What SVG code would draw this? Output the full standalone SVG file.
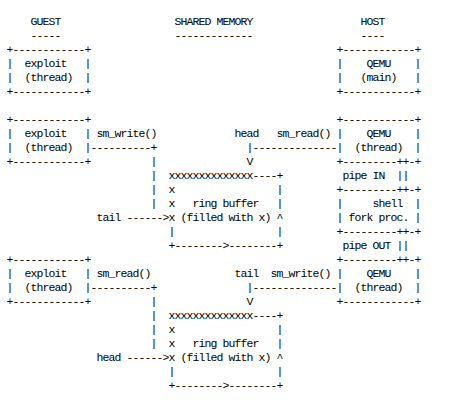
<svg xmlns="http://www.w3.org/2000/svg" width="474" height="403" viewBox="0 0 474 403">
<style>
text{font-family:"Liberation Mono","DejaVu Sans Mono",monospace;font-size:11.5px;letter-spacing:-0.9px;fill:#000;white-space:pre}
</style>
<rect width="474" height="403" fill="#fff"/>
<g id="headers">
<text x="30.5" y="25">GUEST</text>
<text x="30.5" y="39">-----</text>
<text x="174.5" y="25">SHARED MEMORY</text>
<text x="174.5" y="39">-------------</text>
<text x="360.5" y="25">HOST</text>
<text x="360.5" y="39">----</text>
</g>
<g id="exploit-1">
<text x="6.5" y="53" xml:space="preserve">+------------+</text>
<text x="6.5" y="67" xml:space="preserve">|  exploit   |</text>
<text x="6.5" y="81" xml:space="preserve">|  (thread)  |</text>
<text x="6.5" y="95" xml:space="preserve">+------------+</text>
</g>
<g id="qemu-main">
<text x="336.5" y="53" xml:space="preserve">+------------+</text>
<text x="336.5" y="67" xml:space="preserve">|    QEMU    |</text>
<text x="336.5" y="81" xml:space="preserve">|   (main)   |</text>
<text x="336.5" y="95" xml:space="preserve">+------------+</text>
</g>
<g id="exploit-2">
<text x="6.5" y="123" xml:space="preserve">+------------+</text>
<text x="6.5" y="137" xml:space="preserve">|  exploit   |</text>
<text x="6.5" y="151" xml:space="preserve">|  (thread)  |</text>
<text x="6.5" y="165" xml:space="preserve">+------------+</text>
</g>
<g id="qemu-thread-1">
<text x="336.5" y="123" xml:space="preserve">+------------+</text>
<text x="336.5" y="137" xml:space="preserve">|    QEMU    |</text>
<text x="336.5" y="151" xml:space="preserve">|  (thread)  |</text>
<text x="336.5" y="165" xml:space="preserve">+---------++-+</text>
</g>
<g id="pipe-in">
<text x="342.5" y="179" xml:space="preserve">pipe IN  ||</text>
</g>
<g id="shell">
<text x="336.5" y="193" xml:space="preserve">+---------++-+</text>
<text x="336.5" y="207" xml:space="preserve">|     shell  |</text>
<text x="336.5" y="221" xml:space="preserve">| fork proc. |</text>
<text x="336.5" y="235" xml:space="preserve">+---------++-+</text>
</g>
<g id="pipe-out">
<text x="342.5" y="249" xml:space="preserve">pipe OUT ||</text>
</g>
<g id="qemu-thread-2">
<text x="336.5" y="263" xml:space="preserve">+---------++-+</text>
<text x="336.5" y="277" xml:space="preserve">|    QEMU    |</text>
<text x="336.5" y="291" xml:space="preserve">|  (thread)  |</text>
<text x="336.5" y="305" xml:space="preserve">+------------+</text>
</g>
<g id="exploit-3">
<text x="6.5" y="263" xml:space="preserve">+------------+</text>
<text x="6.5" y="277" xml:space="preserve">|  exploit   |</text>
<text x="6.5" y="291" xml:space="preserve">|  (thread)  |</text>
<text x="6.5" y="305" xml:space="preserve">+------------+</text>
</g>
<g id="ring-buffer-1">
<text x="168.5" y="179" xml:space="preserve">xxxxxxxxxxxxxx----+</text>
<text x="168.5" y="193" xml:space="preserve">x                 |</text>
<text x="168.5" y="207" xml:space="preserve">x   ring buffer   |</text>
<text x="168.5" y="221" xml:space="preserve">x (filled with x) ^</text>
<text x="168.5" y="235" xml:space="preserve">|                 |</text>
<text x="168.5" y="249" xml:space="preserve">+--------&gt;--------+</text>
</g>
<g id="ring-buffer-2">
<text x="168.5" y="319" xml:space="preserve">xxxxxxxxxxxxxx----+</text>
<text x="168.5" y="333" xml:space="preserve">x                 |</text>
<text x="168.5" y="347" xml:space="preserve">x   ring buffer   |</text>
<text x="168.5" y="361" xml:space="preserve">x (filled with x) ^</text>
<text x="168.5" y="375" xml:space="preserve">|                 |</text>
<text x="168.5" y="389" xml:space="preserve">+--------&gt;--------+</text>
</g>
<g id="connectors">
<text x="96.5" y="137">sm_write()</text>
<text x="90.5" y="151">----------+</text>
<text x="150.5" y="165">|</text>
<text x="150.5" y="179">|</text>
<text x="150.5" y="193">|</text>
<text x="150.5" y="207">|</text>
<text x="96.5" y="221" xml:space="preserve">tail ------&gt;</text>
<text x="234.5" y="137">head</text>
<text x="276.5" y="137">sm_read()</text>
<text x="246.5" y="151">|--------------</text>
<text x="246.5" y="165">V</text>
<text x="96.5" y="277">sm_read()</text>
<text x="90.5" y="291">----------+</text>
<text x="150.5" y="305">|</text>
<text x="150.5" y="319">|</text>
<text x="150.5" y="333">|</text>
<text x="150.5" y="347">|</text>
<text x="96.5" y="361" xml:space="preserve">head ------&gt;</text>
<text x="234.5" y="277">tail</text>
<text x="270.5" y="277">sm_write()</text>
<text x="246.5" y="291">|--------------</text>
<text x="246.5" y="305">V</text>
</g>
</svg>
